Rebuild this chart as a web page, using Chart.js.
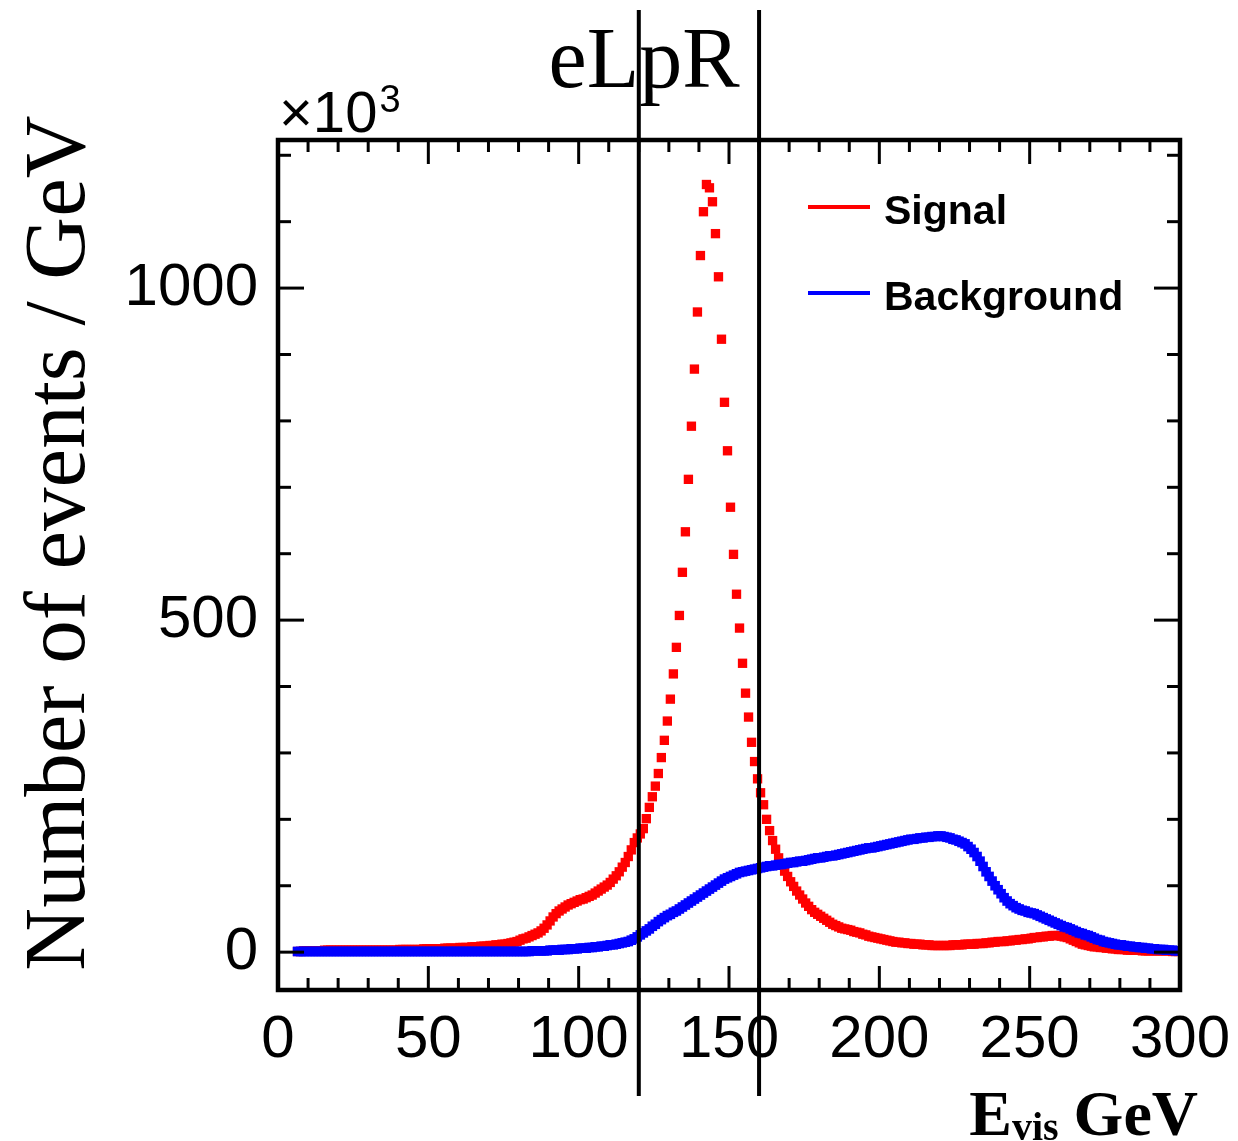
<!DOCTYPE html>
<html lang="en">
<head>
    <meta charset="UTF-8">
    <title>Evis eLpR</title>
    <script src="https://cdn.jsdelivr.net/npm/chart.js@4.4.0/dist/chart.umd.min.js"></script>
    <style>
        html, body { margin: 0; padding: 0; background: #fff; }
        #wrap { width: 1238px; height: 1141px; position: relative; }
    </style>
</head>
<body>
<div id="wrap">
    <canvas id="evis"></canvas>
</div>

<script>
// histogram binning: 1 GeV bins, first filled bin starts at 6 GeV
var firstBin = 6;
var binWidth = 1;

// Signal, events / GeV (x10^3), bins 6..299 GeV
var signal = [
    1, 1, 2, 2,
    2, 2, 2, 2, 2, 3, 3, 3, 3, 3,
    3, 3, 3, 3, 3, 3, 3, 3, 3, 3,
    3, 3, 3, 3, 3, 3, 3, 3, 3, 3,
    4, 4, 4, 4, 4, 4, 4, 4, 5, 5,
    5, 5, 5, 5, 5, 6, 6, 6, 6, 6,
    7, 7, 7, 7, 8, 8, 8, 9, 9, 9,
    10, 10, 11, 11, 12, 12, 13, 14, 15, 16,
    18, 20, 21, 23, 25, 27, 29, 32, 36, 41,
    47, 53, 58, 62, 65, 68, 71, 73, 75, 77,
    79, 80, 82, 84, 86, 89, 92, 95, 98, 101,
    105, 110, 115, 121, 128, 135, 144, 154, 165, 172,
    178, 186, 201, 218, 234, 250, 269, 293, 319, 348,
    381, 419, 459, 507, 572, 633, 712, 792, 878, 964,
    1049, 1115, 1156, 1151, 1130, 1082, 1017, 923, 828, 755,
    670, 599, 539, 488, 435, 390, 354, 316, 287, 261,
    240, 222, 200, 183, 168, 155, 142, 131, 122, 114,
    106, 99, 92, 86, 80, 74, 69, 64, 60, 57,
    54, 51, 48, 45, 42, 40, 38, 36, 35, 34,
    33, 31, 30, 29, 27, 26, 24, 23, 22, 21,
    20, 19, 18, 17, 16, 15, 15, 14, 14, 13,
    13, 12, 12, 12, 11, 11, 11, 10, 10, 10,
    10, 10, 10, 10, 11, 11, 11, 11, 12, 12,
    12, 12, 13, 13, 13, 14, 14, 15, 15, 16,
    16, 16, 17, 17, 18, 18, 19, 19, 20, 20,
    21, 22, 22, 23, 23, 24, 24, 25, 25, 25,
    24, 23, 22, 20, 18, 16, 14, 12, 11, 10,
    9, 8, 8, 7, 7, 6, 6, 5, 5, 4,
    4, 4, 3, 3, 3, 3, 3, 2, 2, 2,
    2, 2, 2, 2, 2, 2, 2, 1, 1, 1
];

// Background, same binning
var background = [
    1, 1, 1, 1,
    1, 1, 1, 1, 1, 1, 1, 1, 1, 1,
    1, 1, 1, 1, 1, 1, 1, 1, 1, 1,
    1, 1, 1, 1, 1, 1, 1, 1, 1, 1,
    1, 1, 1, 1, 1, 1, 1, 1, 1, 1,
    1, 1, 1, 1, 1, 1, 1, 1, 1, 1,
    1, 1, 1, 1, 1, 1, 1, 1, 1, 1,
    1, 1, 1, 1, 1, 1, 1, 1, 1, 1,
    1, 1, 1, 1, 2, 2, 2, 2, 2, 2,
    3, 3, 3, 3, 4, 4, 4, 5, 5, 5,
    6, 6, 6, 7, 7, 8, 8, 9, 9, 10,
    11, 11, 12, 13, 14, 15, 16, 18, 20, 23,
    26, 29, 32, 35, 39, 42, 46, 49, 52, 55,
    57, 60, 62, 65, 68, 71, 74, 77, 80, 83,
    86, 89, 92, 95, 98, 101, 104, 107, 110, 112,
    114, 116, 118, 120, 121, 122, 123, 124, 125, 126,
    127, 128, 129, 130, 130, 131, 132, 132, 133, 134,
    135, 135, 136, 137, 137, 138, 139, 140, 141, 142,
    142, 143, 144, 145, 145, 146, 147, 148, 149, 150,
    151, 152, 153, 154, 155, 156, 157, 157, 158, 159,
    160, 161, 162, 163, 164, 165, 166, 167, 168, 169,
    170, 170, 171, 172, 172, 173, 173, 174, 174, 175,
    175, 174, 173, 172, 170, 169, 167, 165, 163, 159,
    155, 150, 144, 137, 129, 121, 114, 107, 100, 94,
    88, 82, 77, 73, 70, 67, 65, 63, 62, 60,
    59, 58, 56, 54, 52, 50, 48, 46, 44, 42,
    40, 38, 37, 35, 33, 31, 29, 28, 26, 25,
    23, 21, 19, 18, 16, 15, 14, 13, 12, 11,
    11, 10, 9, 9, 8, 8, 7, 7, 6, 6,
    5, 5, 4, 4, 4, 3, 3, 3, 2, 2
];

var xTicks = [0, 50, 100, 150, 200, 250, 300];
var yTicks = [0, 500, 1000];
var cutLines = [120, 160];   // selection window, GeV
var legendNames = ["Signal", "Background"];
var legendColors = ["#ff0000", "#0000ff"];

function toPoints(values) {
    return values.map(function (v, i) {
        return { x: firstBin + (i + 0.5) * binWidth, y: v };
    });
}

function line(ctx, x1, y1, x2, y2) {
    ctx.beginPath();
    ctx.moveTo(x1, y1);
    ctx.lineTo(x2, y2);
    ctx.stroke();
}

// ROOT-like frame: inner ticks on all four sides, cut lines, titles, legend
var rootStyle = {
    id: 'rootStyle',
    afterDatasetsDraw: function (chart) {
        var ctx = chart.ctx;
        var a = chart.chartArea;
        var sx = chart.scales.x, sy = chart.scales.y;
        ctx.save();
        ctx.strokeStyle = '#000';
        ctx.lineCap = 'butt';

        ctx.lineWidth = 3;
        for (var v = 0; v <= 300; v += 10) {
            var px = sx.getPixelForValue(v);
            var len = v % 50 === 0 ? 24 : 12;
            line(ctx, px, a.bottom, px, a.bottom - len);
            line(ctx, px, a.top, px, a.top + len);
        }
        for (var w = 0; w <= 1200; w += 100) {
            var py = sy.getPixelForValue(w);
            var ln = w % 500 === 0 ? 26 : 13;
            line(ctx, a.left, py, a.left + ln, py);
            line(ctx, a.right, py, a.right - ln, py);
        }

        ctx.lineWidth = 4.5;
        ctx.strokeRect(a.left, a.top, a.right - a.left, a.bottom - a.top);

        // cut lines run past the frame
        ctx.lineWidth = 4;
        cutLines.forEach(function (c) {
            var cx = sx.getPixelForValue(c);
            line(ctx, cx, 10, cx, 1096);
        });

        ctx.fillStyle = '#000';

        // title
        ctx.font = '86px "Liberation Serif"';
        ctx.textAlign = 'center';
        ctx.textBaseline = 'alphabetic';
        ctx.fillText('eLpR', 644, 87);

        // exponent
        ctx.textAlign = 'left';
        ctx.font = '58px "Liberation Sans"';
        ctx.fillText('\u00d710', 279, 132);
        var ew = ctx.measureText('\u00d710').width;
        ctx.font = '38px "Liberation Sans"';
        ctx.fillText('3', 279 + ew + 2, 112);

        // y title
        ctx.save();
        ctx.translate(84, 543);
        ctx.rotate(-Math.PI / 2);
        ctx.font = '87px "Liberation Serif"';
        ctx.textAlign = 'center';
        ctx.fillText('Number of events / GeV', 0, 0);
        ctx.restore();

        // x title: E_vis GeV, right aligned
        ctx.font = 'bold 64px "Liberation Serif"';
        var wE = ctx.measureText('E').width;
        var wG = ctx.measureText('GeV').width;
        ctx.font = 'bold 40px "Liberation Serif"';
        var wV = ctx.measureText('vis').width;
        var x0 = 1198 - (wE + wV + 15 + wG);
        ctx.font = 'bold 64px "Liberation Serif"';
        ctx.fillText('E', x0, 1135);
        ctx.fillText('GeV', x0 + wE + wV + 15, 1135);
        ctx.font = 'bold 40px "Liberation Serif"';
        ctx.fillText('vis', x0 + wE, 1140);

        // legend
        var rows = [207, 293];
        ctx.font = 'bold 41px "Liberation Sans"';
        ctx.lineWidth = 4;
        legendNames.forEach(function (name, i) {
            ctx.strokeStyle = legendColors[i];
            line(ctx, 808, rows[i], 870, rows[i]);
            ctx.fillText(name, 884, rows[i] + 17);
        });

        ctx.restore();
    }
};

var ctx = document.getElementById('evis').getContext('2d');
var evisChart = new Chart(ctx, {
    type: 'scatter',
    data: {
        datasets: [
            {
                label: legendNames[1],
                data: toPoints(background),
                backgroundColor: legendColors[1],
                pointStyle: 'rect',
                pointRadius: 6.8,
                borderWidth: 0
            },
            {
                label: legendNames[0],
                data: toPoints(signal),
                backgroundColor: legendColors[0],
                pointStyle: 'rect',
                pointRadius: 6.6,
                borderWidth: 0
            }
        ]
    },
    options: {
        responsive: true,
        maintainAspectRatio: false,
        animation: false,
        layout: { padding: { top: 140, right: 58, left: 0, bottom: 0 } },
        plugins: {
            legend: { display: false },
            title: { display: false },
            tooltip: { enabled: false }
        },
        scales: {
            x: {
                type: 'linear',
                min: 0,
                max: 300,
                grid: { display: false, drawTicks: false },
                border: { display: false },
                afterBuildTicks: function (s) {
                    s.ticks = xTicks.map(function (v) { return { value: v }; });
                },
                afterFit: function (s) {
                    s.height = 151;
                    s.paddingLeft = 0;
                    s.paddingRight = 0;
                },
                ticks: {
                    color: '#000',
                    padding: 14,
                    maxRotation: 0,
                    autoSkip: false,
                    callback: function (v) { return String(v); },
                    font: { family: 'Liberation Sans', size: 60 }
                }
            },
            y: {
                type: 'linear',
                min: -57,
                max: 1223,
                grid: { display: false, drawTicks: false },
                border: { display: false },
                afterBuildTicks: function (s) {
                    s.ticks = yTicks.map(function (v) { return { value: v }; });
                },
                afterFit: function (s) {
                    s.width = 278;
                    s.paddingTop = 0;
                    s.paddingBottom = 0;
                },
                ticks: {
                    color: '#000',
                    padding: 20,
                    autoSkip: false,
                    callback: function (v) { return String(v); },
                    font: { family: 'Liberation Sans', size: 60 }
                }
            }
        }
    },
    plugins: [rootStyle]
});
</script>
</body>
</html>
